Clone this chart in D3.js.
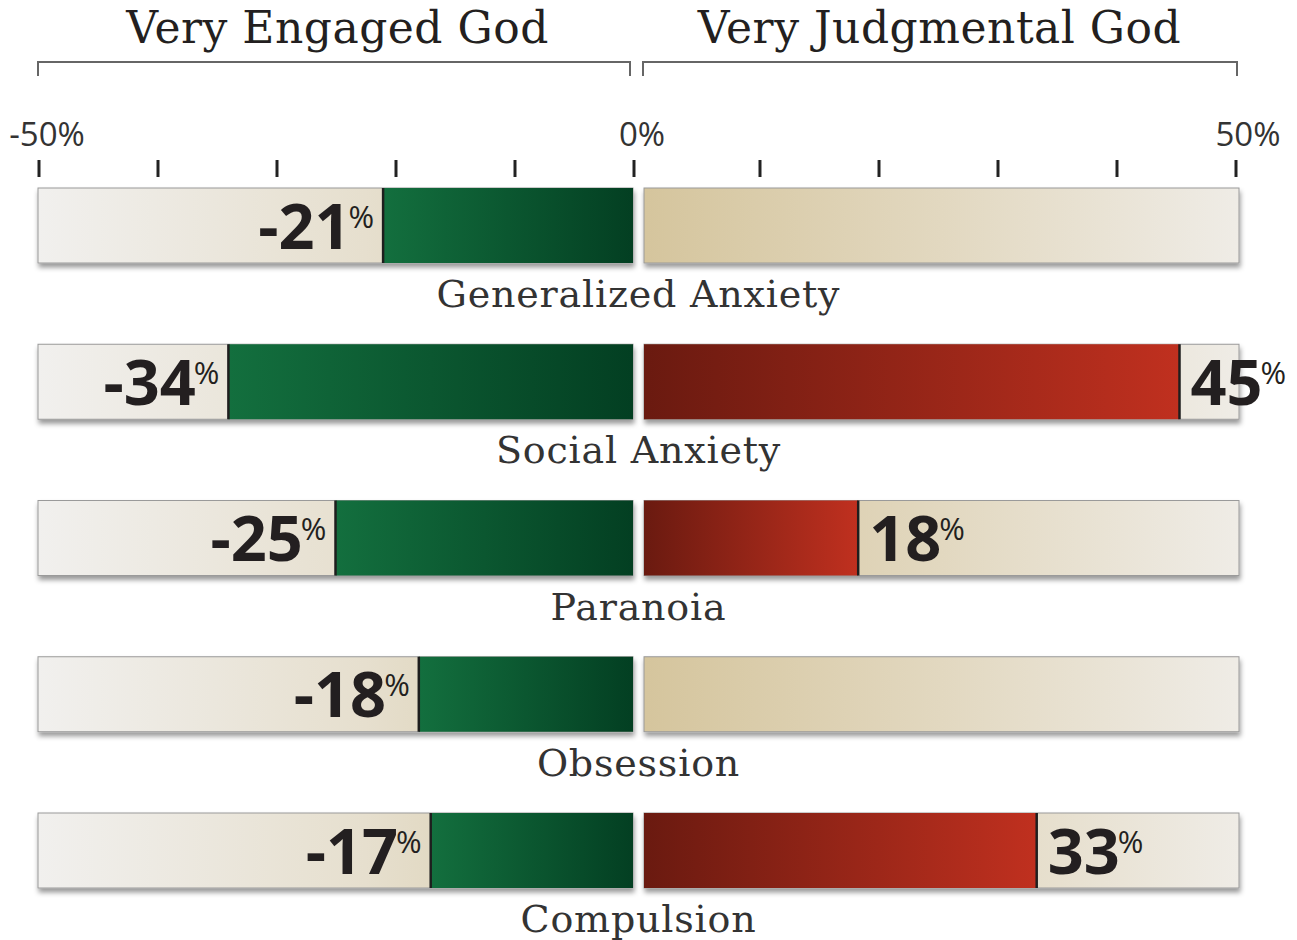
<!DOCTYPE html>
<html>
<head>
<meta charset="utf-8">
<script src="https://cdn.jsdelivr.net/npm/d3@7"></script>
<style>
  body { margin: 0; background: #fff; }
  svg { display: block; }
</style>
</head>
<body>
<div id="chart"></div>
<script>
// data
var categories = ["Generalized Anxiety", "Social Anxiety", "Paranoia", "Obsession", "Compulsion"];
var engagedVals = [-21, -34, -25, -18, -17];     // very engaged god
var judgmentalVals = [0, 45, 18, 0, 33];          // very judgmental god
var leftTicks = [-50, -40, -30, -20, -10, 0];
var rightTicks = [10, 20, 30, 40, 50];
var tickLabels = [{v: -50, t: "-50%", side: "L"}, {v: 0, t: "0%", side: "R"}, {v: 50, t: "50%", side: "R"}];
var headers = ["Very Engaged God", "Very Judgmental God"];

var width = 1297, height = 940;

var svg = d3.select("#chart").append("svg")
  .attr("width", width)
  .attr("height", height);

var defs = svg.append("defs");

function grad(id, stops) {
  var g = defs.append("linearGradient").attr("id", id)
    .attr("x1", "0%").attr("x2", "100%").attr("y1", "0%").attr("y2", "0%");
  stops.forEach(function(s) {
    g.append("stop").attr("offset", s[0]).attr("stop-color", s[1]);
  });
}
grad("bgLeft", [["0%", "#f1f0ee"], ["55%", "#e6dfce"], ["100%", "#d7c9a5"]]);
grad("bgRight", [["0%", "#d5c59d"], ["50%", "#e2d8c0"], ["100%", "#efece6"]]);
grad("green", [["0%", "#136f3e"], ["100%", "#033f22"]]);
grad("red", [["0%", "#6a1a10"], ["100%", "#c0301f"]]);

var shadow = defs.append("filter").attr("id", "shadow")
  .attr("x", "-5%").attr("y", "-20%").attr("width", "110%").attr("height", "150%");
shadow.append("feDropShadow")
  .attr("dx", 1).attr("dy", 4).attr("stdDeviation", 2.5)
  .attr("flood-color", "#000").attr("flood-opacity", 0.4);

// scales
var xL = d3.scaleLinear().domain([-50, 0]).range([38, 633]);
var xR = d3.scaleLinear().domain([0, 50]).range([644, 1239]);
var y = d3.scaleBand().domain(categories).range([188, 888]).paddingInner(0.52).paddingOuter(0);
var bh = y.bandwidth();

// headers + brackets
var serif = "'DejaVu Serif', serif";
var sans = "'Open Sans', 'Liberation Sans', sans-serif";

svg.append("text").attr("x", (xL(-50) + xL(0)) / 2 + 2).attr("y", 43)
  .attr("text-anchor", "middle").attr("font-family", serif)
  .attr("font-size", 44).attr("letter-spacing", 0.5).attr("fill", "#231f20").text(headers[0]);
svg.append("text").attr("x", (xR(0) + xR(50)) / 2 - 2).attr("y", 43)
  .attr("text-anchor", "middle").attr("font-family", serif)
  .attr("font-size", 44).attr("letter-spacing", 0.5).attr("fill", "#231f20").text(headers[1]);

svg.append("path")
  .attr("d", "M" + xL(-50) + ",76V62H" + (xL(0) - 3) + "V76")
  .attr("fill", "none").attr("stroke", "#666").attr("stroke-width", 2);
svg.append("path")
  .attr("d", "M" + (xR(0) - 1) + ",76V62H" + (xR(50) - 2) + "V76")
  .attr("fill", "none").attr("stroke", "#666").attr("stroke-width", 2);

// tick labels
svg.selectAll(".tlab").data(tickLabels).enter().append("text")
  .attr("class", "tlab")
  .attr("x", function(d) { return (d.side == "L" ? xL(d.v) : (d.v == 0 ? xL(0) : xR(d.v))) + 9; })
  .attr("y", 146)
  .attr("text-anchor", "middle")
  .attr("font-family", sans)
  .attr("font-size", 33)
  .attr("fill", "#333")
  .text(function(d) { return d.t; });

// tick marks
svg.selectAll(".tl").data(leftTicks).enter().append("line")
  .attr("x1", function(d) { return xL(d) + 1; }).attr("x2", function(d) { return xL(d) + 1; })
  .attr("y1", 160).attr("y2", 177)
  .attr("stroke", "#222").attr("stroke-width", 3);
svg.selectAll(".tr").data(rightTicks).enter().append("line")
  .attr("x1", function(d) { return xR(d) - 3; }).attr("x2", function(d) { return xR(d) - 3; })
  .attr("y1", 160).attr("y2", 177)
  .attr("stroke", "#222").attr("stroke-width", 3);

// rows
var rows = svg.selectAll(".row")
  .data(categories.map(function(c, i) { return {cat: c, eng: engagedVals[i], jud: judgmentalVals[i]}; }))
  .enter().append("g")
  .attr("class", "row")
  .attr("transform", function(d) { return "translate(0," + y(d.cat) + ")"; });

// background tracks
rows.append("rect")
  .attr("x", xL(-50)).attr("width", xL(0) - xL(-50)).attr("height", bh)
  .attr("fill", "url(#bgLeft)").attr("stroke", "#9a9a9a").attr("stroke-width", 1)
  .attr("filter", "url(#shadow)");
rows.append("rect")
  .attr("x", xR(0)).attr("width", xR(50) - xR(0)).attr("height", bh)
  .attr("fill", "url(#bgRight)").attr("stroke", "#9a9a9a").attr("stroke-width", 1)
  .attr("filter", "url(#shadow)");

// engaged (green) bars
rows.append("rect")
  .attr("x", function(d) { return xL(d.eng); })
  .attr("width", function(d) { return xL(0) - xL(d.eng); })
  .attr("height", bh)
  .attr("fill", "url(#green)");
rows.append("line")
  .attr("x1", function(d) { return xL(d.eng); }).attr("x2", function(d) { return xL(d.eng); })
  .attr("y1", 0).attr("y2", bh)
  .attr("stroke", "#1e1e1e").attr("stroke-width", 2.5);

// judgmental (red) bars
var jr = rows.filter(function(d) { return d.jud > 0; });
jr.append("rect")
  .attr("x", xR(0))
  .attr("width", function(d) { return xR(d.jud) - xR(0); })
  .attr("height", bh)
  .attr("fill", "url(#red)");
jr.append("line")
  .attr("x1", function(d) { return xR(d.jud); }).attr("x2", function(d) { return xR(d.jud); })
  .attr("y1", 0).attr("y2", bh)
  .attr("stroke", "#1e1e1e").attr("stroke-width", 2.5);

// value labels
var negLab = rows.append("text")
  .attr("x", function(d) { return xL(d.eng) - 9; })
  .attr("y", bh / 2 + 23)
  .attr("text-anchor", "end")
  .attr("font-family", sans)
  .attr("fill", "#231f20");
negLab.append("tspan").attr("font-size", 63).attr("font-weight", 700).text(function(d) { return d.eng; });
negLab.append("tspan").attr("font-size", 31).attr("font-weight", 400).attr("dx", -2).attr("dy", -21).text("%");

var posLab = jr.append("text")
  .attr("x", function(d) { return xR(d.jud) + 11; })
  .attr("y", bh / 2 + 23)
  .attr("font-family", sans)
  .attr("fill", "#231f20");
posLab.append("tspan").attr("font-size", 63).attr("font-weight", 700).text(function(d) { return d.jud; });
posLab.append("tspan").attr("font-size", 31).attr("font-weight", 400).attr("dx", -2).attr("dy", -21).text("%");

// category labels
rows.append("text")
  .attr("x", (xL(-50) + xR(50)) / 2)
  .attr("y", bh + 44)
  .attr("text-anchor", "middle")
  .attr("font-family", serif)
  .attr("font-size", 38)
  .attr("letter-spacing", 0.8)
  .attr("fill", "#333")
  .text(function(d) { return d.cat; });
</script>
</body>
</html>
